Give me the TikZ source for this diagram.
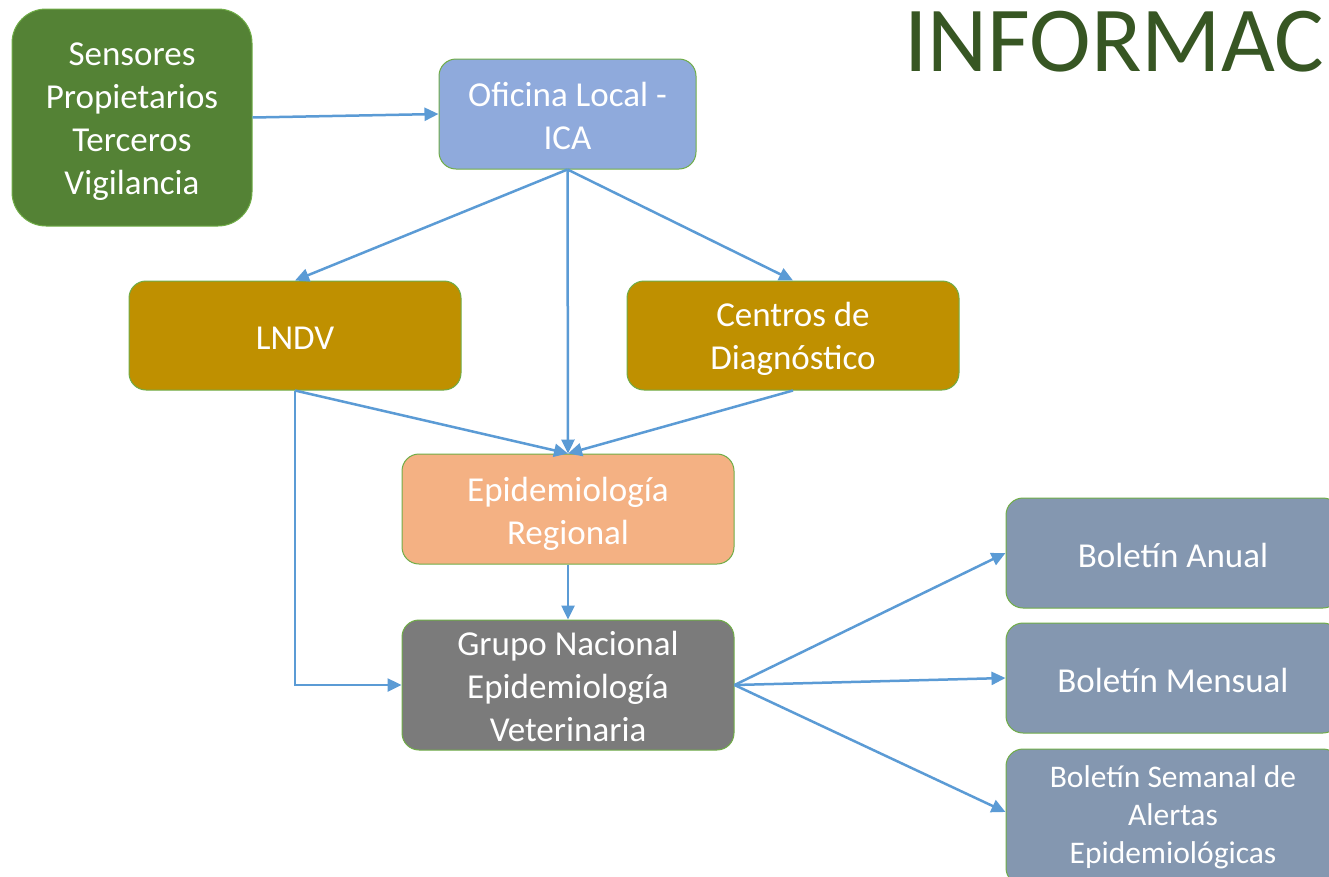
\documentclass[tikz,border=0pt]{standalone}
\usepackage{fontspec}
\setmainfont{Carlito}
\usetikzlibrary{arrows.meta}
\definecolor{cgreen}{HTML}{548235}
\definecolor{cborder}{HTML}{70AD47}
\definecolor{cblue}{HTML}{8FAADC}
\definecolor{cgold}{HTML}{BF9000}
\definecolor{cpeach}{HTML}{F4B183}
\definecolor{cgray}{HTML}{7B7B7B}
\definecolor{cslate}{HTML}{8497B0}
\definecolor{carrow}{HTML}{5B9BD5}
\definecolor{ctitle}{HTML}{375623}
\tikzset{
  box/.style={draw=cborder, line width=1pt, inner sep=0pt, rounded corners=17pt},
  txt/.style={text=white, align=center, inner sep=0pt, font=\fontsize{35}{43}\selectfont},
  conn/.style={draw=carrow, line width=2.5pt, -{Triangle[length=14pt,width=13pt]}},
}
\begin{document}
\begin{tikzpicture}[x=1pt,y=-1pt]
\useasboundingbox (0,0) rectangle (1329,876);
\fill[white] (0,0) rectangle (1329,876);
\node[anchor=base west, text=ctitle, font=\fontsize{93}{100}\selectfont, inner sep=0pt] (title) at (904,71) {INFORMAC};
\node[box, fill=cgreen, rounded corners=34pt, minimum width=240pt, minimum height=217pt] (sens) at (132,117.5) {};
\node[txt] (senst) at ([yshift=-4pt]sens.center) {Sensores\\Propietarios\\Terceros\\Vigilancia};
\node[box, fill=cblue, minimum width=257pt, minimum height=110pt] (ofi) at (567.5,114) {};
\node[txt] (ofit) at ([yshift=-1.5pt]ofi.center) {Oficina Local -\\ICA};
\node[box, fill=cgold, minimum width=332pt, minimum height=109pt] (lndv) at (295,335.5) {};
\node[txt] (lndvt) at ([yshift=-3pt]lndv.center) {LNDV};
\node[box, fill=cgold, minimum width=332pt, minimum height=109pt] (cen) at (793,335.5) {};
\node[txt] (cent) at ([yshift=-3pt]cen.center) {Centros de\\Diagnóstico};
\node[box, fill=cpeach, minimum width=332pt, minimum height=110pt] (epi) at (568,509) {};
\node[txt] (epit) at ([yshift=-5pt]epi.center) {Epidemiología\\Regional};
\node[box, fill=cgray, minimum width=332pt, minimum height=130pt] (grp) at (568,685) {};
\node[txt] (grpt) at ([yshift=-1pt]grp.center) {Grupo Nacional\\Epidemiología\\Veterinaria};
\node[box, fill=cslate, minimum width=334pt, minimum height=110pt] (anu) at (1173,553) {};
\node[txt] (anut) at ([yshift=-2pt]anu.center) {Boletín Anual};
\node[box, fill=cslate, minimum width=334pt, minimum height=110pt] (men) at (1173,678) {};
\node[txt] (ment) at ([yshift=-2pt]men.center) {Boletín Mensual};
\node[box, fill=cslate, minimum width=334pt, minimum height=136pt] (sem) at (1173,817) {};
\node[txt, font=\fontsize{31.5}{38}\selectfont] (semt) at (sem.center) {Boletín Semanal de\\Alertas\\Epidemiológicas};
\draw[conn] (sens.east) -- (ofi.west);
\draw[conn] (ofi.south) -- (lndv.north);
\draw[conn] (ofi.south) -- (epi.north);
\draw[conn] (ofi.south) -- (cen.north);
\draw[conn] (lndv.south) -- (epi.north);
\draw[conn] (cen.south) -- (epi.north);
\draw[conn] (lndv.south) |- (grp.west);
\draw[conn] (epi.south) -- (grp.north);
\draw[conn] (grp.east) -- (anu.west);
\draw[conn] (grp.east) -- (men.west);
\draw[conn] (grp.east) -- ([yshift=5pt]sem.west);
\end{tikzpicture}
\end{document}
